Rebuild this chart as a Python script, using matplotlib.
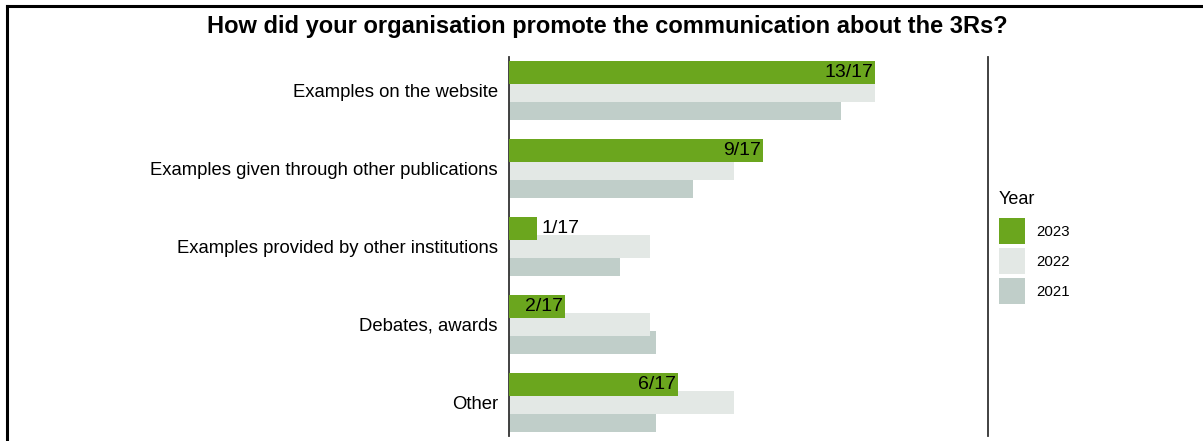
import matplotlib.pyplot as plt
from matplotlib.patches import Patch
from matplotlib.lines import Line2D
import numpy as np

plt.rcParams['font.family'] = ['Liberation Sans', 'DejaVu Sans']

categories = ['Examples on the website',
              'Examples given through other publications',
              'Examples provided by other institutions',
              'Debates, awards',
              'Other']
years = ['2023', '2022', '2021']
colors = ['#6ba61e', '#e3e8e5', '#c0cec9']

# counts per year and the number of respondents that year
n_2023 = [13, 9, 1, 2, 6]
total_2023 = 17
n_2022 = [13, 8, 5, 5, 8]
total_2022 = 17
n_2021 = [9, 5, 3, 4, 4]
total_2021 = 13

share = {
    '2023': np.array(n_2023) / total_2023,
    '2022': np.array(n_2022) / total_2022,
    '2021': np.array(n_2021) / total_2021,
}
offsets = {'2023': -0.235, '2022': 0.0, '2021': 0.235}

fig = plt.figure(figsize=(12.03, 4.41), dpi=100)
ax = fig.add_axes([509 / 1203, 5 / 441, 479 / 1203, 379 / 441])

y = np.arange(len(categories))
h = 0.295
# drawn back to front so the newer year sits on top
for k, yr in enumerate(['2021', '2022', '2023']):
    ax.barh(y + offsets[yr], share[yr], height=h,
            color=colors[years.index(yr)], zorder=k + 1)

for i, v in enumerate(share['2023']):
    txt = f'{n_2023[i]}/{total_2023}'
    if v < 0.1:
        ax.text(v + 0.008, y[i] + offsets['2023'], txt, ha='left', va='center',
                fontsize=14, zorder=5)
    else:
        ax.text(v - 0.004, y[i] + offsets['2023'], txt, ha='right', va='center',
                fontsize=14, zorder=5)

ax.set_xlim(0, 1)
ax.set_ylim(len(categories) - 1 + 0.43, -0.43)
ax.set_yticks(y)
ax.set_yticklabels(categories, fontsize=13.3)
ax.tick_params(axis='y', length=0, pad=8)
ax.set_xticks([])
for s in ['top', 'bottom']:
    ax.spines[s].set_visible(False)
for s in ['left', 'right']:
    ax.spines[s].set_color('#333333')
    ax.spines[s].set_linewidth(1.3)

fig.text(0.505, 1 - 27 / 441, 'How did your organisation promote the communication about the 3Rs?',
         ha='center', va='center', fontsize=17, fontweight='bold')

handles = [Patch(facecolor=c, edgecolor='none') for c in colors]
leg = fig.legend(handles, years, title='Year', loc='upper left',
                 bbox_to_anchor=(993 / 1203, 1 - 185 / 441), frameon=False,
                 fontsize=10.8, title_fontsize=13, handlelength=1.73,
                 handleheight=2.3, labelspacing=0.27, handletextpad=0.75,
                 borderaxespad=0)
leg._legend_box.align = 'left'
leg._legend_box.sep = 7.2

# outer frame, top and left edges
fig.add_artist(Line2D([7 / 1203, 1], [1 - 6 / 441] * 2, color='black', lw=2.2,
                      transform=fig.transFigure))
fig.add_artist(Line2D([7 / 1203] * 2, [0, 1 - 6 / 441], color='black', lw=2.2,
                      transform=fig.transFigure))

fig.savefig('out.png', dpi=100)
